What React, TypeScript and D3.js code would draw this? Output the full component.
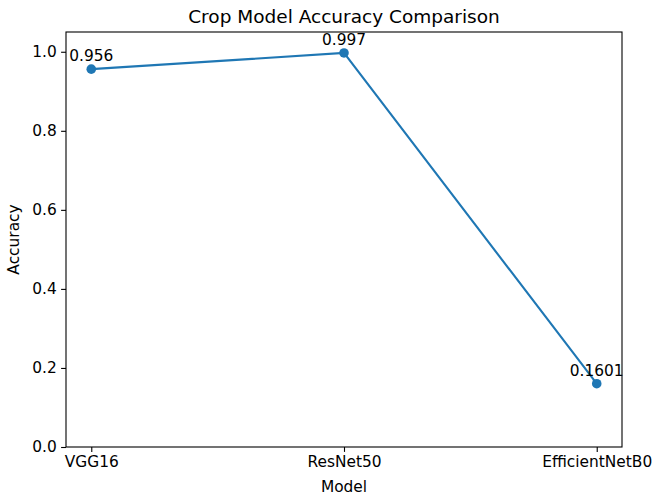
import React, { useEffect, useRef } from 'react';
import * as d3 from 'd3';

const W = 652, H = 498;
const margin = { top: 32, right: 30, bottom: 51, left: 66 };

// chart data
const models = ['VGG16', 'ResNet50', 'EfficientNetB0'];
const accuracy = [0.956, 0.997, 0.1601];
const accuracyLabels = ['0.956', '0.997', '0.1601'];
const yTicks = [0.0, 0.2, 0.4, 0.6, 0.8, 1.0];

const blue = '#1f77b4';
const font = 'DejaVu Sans, sans-serif';
const fs = 15.4;

export default function App() {
    const ref = useRef<SVGSVGElement>(null);

    useEffect(() => {
        const svg = d3.select(ref.current);
        svg.selectAll('*').remove();

        const x = d3.scaleLinear().domain([-0.1, 2.1]).range([margin.left, W - margin.right]);
        const y = d3.scaleLinear().domain([0, 1.05]).range([H - margin.bottom, margin.top]);

        svg.append('rect').attr('width', W).attr('height', H).attr('fill', '#fff');

        // axes
        const xAxis = d3.axisBottom(x)
            .tickValues(models.map((_, i) => i))
            .tickFormat((d) => models[d as number])
            .tickSize(4.9).tickPadding(4.4).tickSizeOuter(0);
        const yAxis = d3.axisLeft(y)
            .tickValues(yTicks)
            .tickFormat(d3.format('.1f'))
            .tickSize(4.9).tickPadding(4.4).tickSizeOuter(0);

        const gx = svg.append('g').attr('transform', `translate(0,${H - margin.bottom})`).call(xAxis);
        const gy = svg.append('g').attr('transform', `translate(${margin.left},0)`).call(yAxis);
        [gx, gy].forEach((g) => {
            g.select('.domain').remove();
            g.selectAll('line').attr('stroke', '#000').attr('stroke-width', 1.1);
            g.selectAll('text').attr('font-family', font).attr('font-size', fs).attr('fill', '#000');
        });

        // frame
        svg.append('rect')
            .attr('x', margin.left).attr('y', margin.top)
            .attr('width', W - margin.left - margin.right)
            .attr('height', H - margin.top - margin.bottom)
            .attr('fill', 'none').attr('stroke', '#000').attr('stroke-width', 1.1);

        // line and points
        const line = d3.line<number>().x((_, i) => x(i)).y((d) => y(d));
        svg.append('path').attr('d', line(accuracy))
            .attr('fill', 'none').attr('stroke', blue).attr('stroke-width', 2.1);
        svg.selectAll('.pt').data(accuracy).enter().append('circle')
            .attr('cx', (_, i) => x(i)).attr('cy', (d) => y(d)).attr('r', 4.8).attr('fill', blue);

        // value labels
        svg.selectAll('.lbl').data(accuracy).enter().append('text')
            .attr('x', (_, i) => x(i)).attr('y', (d) => y(d) - 8)
            .attr('text-anchor', 'middle').attr('font-family', font).attr('font-size', fs)
            .attr('fill', '#000')
            .text((_, i) => accuracyLabels[i]);

        // titles
        svg.append('text').attr('x', (margin.left + W - margin.right) / 2).attr('y', 23)
            .attr('text-anchor', 'middle').attr('font-family', font).attr('font-size', 18.5)
            .text('Crop Model Accuracy Comparison');
        svg.append('text').attr('x', (margin.left + W - margin.right) / 2).attr('y', 492)
            .attr('text-anchor', 'middle').attr('font-family', font).attr('font-size', fs)
            .text('Model');
        svg.append('text')
            .attr('transform', `translate(19,${(margin.top + H - margin.bottom) / 2}) rotate(-90)`)
            .attr('text-anchor', 'middle').attr('font-family', font).attr('font-size', fs)
            .text('Accuracy');
    }, []);

    return (
        <svg ref={ref} width={W} height={H} viewBox={`0 0 ${W} ${H}`}
            style={{ position: 'absolute', left: 0, top: 0 }} />
    );
}
